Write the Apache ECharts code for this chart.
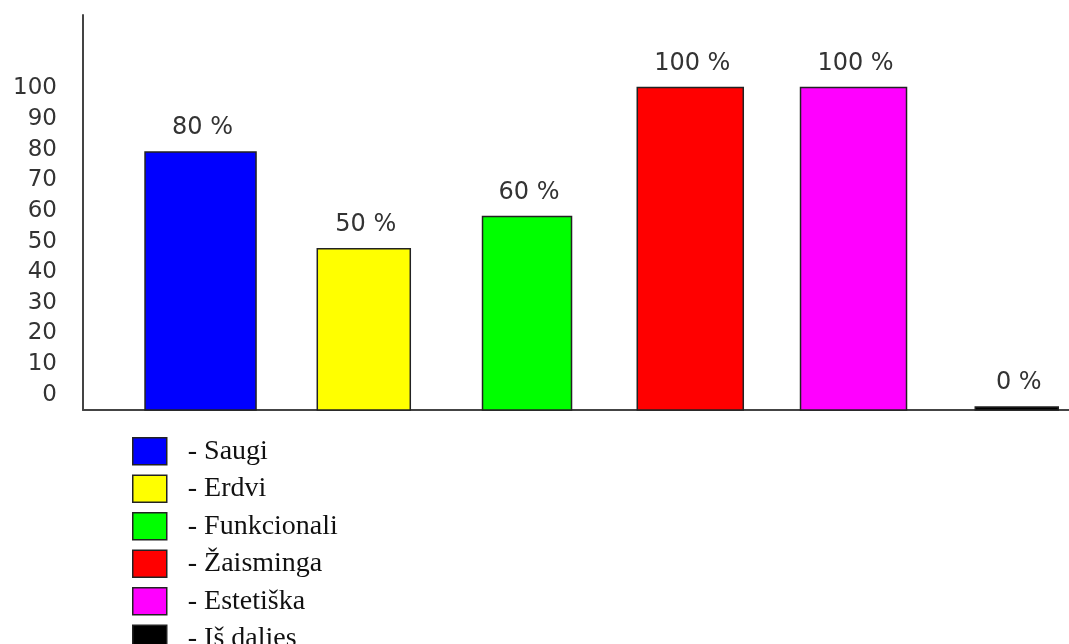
<!DOCTYPE html>
<html>
<head>
<meta charset="utf-8">
<script src="https://cdn.jsdelivr.net/npm/echarts@6/dist/echarts.min.js"></script>
<style>
html,body{margin:0;padding:0;background:#fff;}
#chart{width:1069px;height:644px;}
</style>
</head>
<body>
<div id="chart"></div>
<script>
// ---- data ----
const categories = ['Saugi', 'Erdvi', 'Funkcionali', 'Žaisminga', 'Estetiška', 'Iš dalies'];
const values = [80, 50, 60, 100, 100, 0];
const tickLabels = [0, 10, 20, 30, 40, 50, 60, 70, 80, 90, 100];

// ---- styles ----
const colors = ['#0000ff', '#ffff00', '#00ff00', '#ff0000', '#ff00ff', '#000000'];
const barWidthsPx = [111, 93, 89, 106, 106, 83];

const chart = echarts.init(document.getElementById('chart'));

const series = categories.map(function (name, i) {
  return {
    type: 'custom',
    name: name,
    coordinateSystem: 'cartesian2d',
    xAxisIndex: 0,
    yAxisIndex: 0,
    itemStyle: { color: colors[i] },
    encode: { x: 0, y: 1 },
    data: [[i, values[i]]],
    renderItem: function (params, api) {
      const x = api.value(0);
      const v = api.value(1);
      const top = api.coord([x, v]);
      const base = api.coord([x, 0]);
      const w = barWidthsPx[i];
      const h = Math.max(base[1] - top[1], 3);
      return {
        type: 'group',
        children: [
          {
            type: 'rect',
            shape: { x: top[0] - w / 2, y: base[1] - h, width: w, height: h },
            style: { fill: colors[i], stroke: '#222', lineWidth: 1.5 }
          },
          {
            type: 'text',
            style: {
              text: v + ' %',
              x: top[0] + 2,
              y: base[1] - h - 24,
              align: 'center',
              verticalAlign: 'middle',
              fontFamily: 'DejaVu Sans',
              fontSize: 24,
              fill: '#333'
            }
          }
        ]
      };
    }
  };
});

chart.setOption({
  animation: false,
  backgroundColor: '#fff',
  grid: { left: 83, right: 0, top: 15, bottom: 234, containLabel: false },
  xAxis: {
    type: 'value',
    min: -0.72,
    max: 5.32,
    axisLine: { show: true, onZero: false, lineStyle: { color: '#444', width: 2 } },
    axisTick: { show: false },
    axisLabel: { show: false },
    splitLine: { show: false }
  },
  yAxis: [
    {
      type: 'value',
      min: 0,
      max: 122.5,
      position: 'left',
      axisLine: { show: true, onZero: false, lineStyle: { color: '#444', width: 2 } },
      axisTick: { show: false },
      axisLabel: { show: false },
      splitLine: { show: false }
    },
    {
      type: 'value',
      min: -5,
      max: 124,
      interval: 5,
      position: 'left',
      offset: 0,
      axisLine: { show: false, onZero: false },
      axisTick: { show: false },
      splitLine: { show: false },
      axisLabel: {
        show: true,
        margin: 26,
        fontFamily: 'DejaVu Sans',
        fontSize: 23,
        color: '#333',
        showMinLabel: false,
        showMaxLabel: false,
        formatter: function (val) {
          return tickLabels.indexOf(val) >= 0 ? String(val) : '';
        }
      }
    }
  ],
  legend: {
    orient: 'vertical',
    left: 132,
    top: 437,
    height: 300,
    padding: 0,
    itemWidth: 34,
    itemHeight: 27,
    itemGap: 9,
    icon: 'rect',
    selectedMode: false,
    data: categories,
    itemStyle: { borderColor: '#222', borderWidth: 1.5 },
    formatter: function (name) { return '- ' + name; },
    textStyle: {
      fontFamily: 'Liberation Serif',
      fontSize: 28,
      color: '#111',
      lineHeight: 27,
      padding: [0, 0, 0, 16]
    }
  },
  series: series
});
</script>
</body>
</html>
